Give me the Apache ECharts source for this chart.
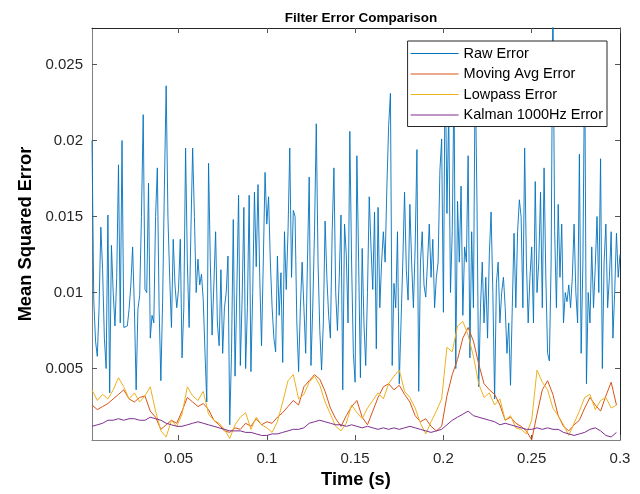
<!DOCTYPE html>
<html><head><meta charset="utf-8">
<script src="https://cdn.jsdelivr.net/npm/echarts@6/dist/echarts.min.js"></script>
<style>html,body{margin:0;padding:0;background:#fff}#c{width:640px;height:494px}</style>
</head><body><div id="c"></div>
<script>
// values in units of 1e-3 (milli)
const rawErr = [
20.0,9.5,6.8,5.8,9.0,14.3,11.5,7.0,5.0,15.1,
3.4,13.1,10.0,7.8,11.0,18.4,8.0,20.0,7.7,7.6,
7.8,8.9,10.5,13.0,9.0,3.6,8.9,9.8,15.0,21.7,
10.2,10.0,17.2,7.0,8.5,8.0,15.0,18.2,9.0,4.2,
9.5,17.0,23.6,15.0,11.0,7.7,13.5,10.5,9.0,10.2,
13.5,5.7,9.0,19.5,12.0,7.7,14.0,19.5,15.0,10.0,
12.2,10.5,11.2,9.5,6.0,2.8,18.5,12.0,7.2,10.5,
14.0,8.0,6.5,11.5,6.0,9.0,10.0,12.4,1.3,6.0,
14.8,4.5,10.0,16.4,5.2,9.5,15.6,5.0,9.0,16.4,
4.8,10.0,16.6,11.7,17.1,11.0,6.5,12.0,17.9,14.5,
16.3,12.0,9.0,7.0,6.1,12.4,8.5,11.3,5.4,14.0,
10.2,14.0,19.5,11.0,15.4,15.0,8.0,4.8,9.0,12.0,
9.0,6.0,12.0,17.6,5.2,9.0,14.0,21.1,12.0,7.5,
4.9,8.0,14.7,11.0,8.5,7.0,14.0,18.2,10.0,7.5,
11.0,15.1,3.6,14.5,12.5,8.0,20.6,12.0,6.0,4.1,
19.0,12.0,4.4,12.9,8.0,5.2,10.0,16.3,13.0,10.2,
15.3,6.3,15.6,9.0,12.0,14.0,12.0,17.0,21.0,23.1,
5.2,10.6,9.0,14.0,4.0,8.0,12.0,16.6,11.5,9.5,
15.8,12.0,9.0,13.0,19.4,3.5,12.0,14.0,10.5,9.7,
12.0,14.5,11.0,13.5,9.0,11.0,12.0,18.0,20.1,8.7,
26.0,15.2,22.0,10.0,14.0,24.0,5.0,16.0,12.0,17.0,
8.5,13.0,12.0,19.0,5.7,14.0,9.0,25.0,16.0,3.8,
9.0,12.0,8.0,11.0,7.0,12.5,15.3,10.0,3.0,10.6,
12.0,8.0,10.0,11.0,9.0,6.0,8.0,3.9,9.0,13.9,
9.0,14.0,16.1,15.0,9.0,19.5,12.0,8.0,11.0,13.0,
8.0,17.3,10.0,12.0,16.6,9.0,18.2,11.0,6.0,5.5,
12.0,30.0,14.0,9.0,15.8,11.0,14.5,8.0,10.0,9.4,
10.5,9.0,11.0,14.5,10.0,8.0,19.1,6.0,12.0,26.0,
4.0,10.0,8.0,13.0,9.0,11.7,15.0,10.0,18.8,5.0,
12.0,14.5,9.0,11.0,14.0,7.0,10.0,13.9,11.0,12.5
];
const movingAvgErr = [
2.6,2.3,2.5,2.7,3.0,3.3,3.6,3.0,2.8,3.1,
3.2,2.2,1.8,1.0,1.3,1.6,1.4,2.2,3.1,2.8,
2.5,2.7,2.3,1.6,1.3,0.9,0.8,1.1,1.0,1.4,
1.2,1.7,1.3,1.5,1.4,1.8,2.1,2.5,2.9,2.6,
3.8,4.2,4.6,4.3,3.5,2.4,1.7,1.2,1.9,2.5,
2.9,1.8,1.3,2.2,3.1,3.8,4.0,3.6,3.9,3.3,
2.8,1.9,1.5,1.7,1.2,0.9,1.2,3.2,4.6,5.6,
7.0,7.7,6.8,5.3,4.0,3.6,3.3,2.6,1.6,1.8,
1.4,1.2,0.9,0.3,2.0,3.6,4.2,3.3,1.9,1.2,
0.9,1.3,1.6,2.4,3.1,2.6,2.2,3.2,4.1,2.6
];
const lowpassErr = [
3.6,2.9,3.3,3.0,3.6,4.4,3.8,3.0,3.4,2.8,
3.2,3.8,2.2,0.9,0.5,1.6,1.2,2.0,3.8,3.2,
2.9,3.5,2.0,1.6,1.4,1.0,0.4,1.3,1.8,2.1,
1.0,1.8,1.3,1.1,0.8,1.5,2.8,4.2,4.6,3.0,
3.3,4.1,4.5,3.9,2.8,2.0,1.2,0.9,1.4,2.6,
2.1,1.7,2.4,2.9,3.4,3.0,4.0,4.5,4.9,3.5,
3.1,2.4,1.4,0.7,1.5,2.2,3.0,6.4,6.1,7.8,
8.1,7.2,5.8,4.0,3.1,3.4,2.6,3.0,1.6,1.9,
1.1,1.0,0.7,1.6,4.9,4.1,3.6,2.4,1.9,1.3,
0.6,1.4,2.2,3.1,3.3,2.3,2.9,3.1,2.4,2.6
];
const kalmanErr = [
1.2,1.3,1.4,1.6,1.6,1.7,1.6,1.7,1.7,1.6,
1.6,1.8,1.7,1.6,1.4,1.3,1.2,1.2,1.3,1.4,
1.5,1.4,1.3,1.2,1.1,1.0,0.9,0.9,0.9,0.8,
0.8,0.7,0.6,0.6,0.7,0.7,0.8,0.9,1.0,1.0,
1.1,1.4,1.5,1.6,1.5,1.4,1.3,1.3,1.2,1.3,
1.2,1.1,1.2,1.1,1.0,1.1,1.0,1.1,1.0,1.1,
1.2,1.1,1.0,0.9,0.8,0.9,1.0,1.3,1.6,1.8,
2.0,2.2,1.9,1.8,1.7,1.6,1.5,1.3,1.4,1.3,
1.2,1.1,1.0,1.0,1.1,1.0,1.1,1.0,1.0,0.8,
0.7,0.6,0.7,0.8,1.0,1.1,0.9,0.6,0.5,0.8
];
const seriesNames = ['Raw Error','Moving Avg Error','Lowpass Error','Kalman 1000Hz Error'];
const xTicks = [0.05,0.1,0.15,0.2,0.25,0.3];
const yTicks = [0.005,0.01,0.015,0.02,0.025];

// sample times: raw every 1 ms from 1 ms, filters every 3 ms from 1 ms
const toPairs = (arr, stepMs) => arr.map((v,i)=>[(1+i*stepMs)/1000, v/1000]);

const colors = ['#0072BD','#D95319','#EDB120','#7E2F8E'];
const axisCol = '#262626';
const fnt = '"Liberation Sans", Arial, sans-serif';
const fmt = v => String(+v.toFixed(4));
const datas = [toPairs(rawErr,1), toPairs(movingAvgErr,3), toPairs(lowpassErr,3), toPairs(kalmanErr,3)];

const chart = echarts.init(document.getElementById('c'), null, {renderer:'canvas'});
chart.setOption({
  animation:false,
  backgroundColor:'#fff',
  color:colors,
  title:{text:'Filter Error Comparison', left:356, textAlign:'center', top:6,
    textStyle:{fontFamily:fnt, fontSize:13.5, fontWeight:'bold', color:'#000'}},
  grid:{left:92, right:20, top:28, bottom:51},
  legend:{orient:'vertical', right:33, top:41, data:seriesNames,
    icon:'rect', itemWidth:48, itemHeight:1, itemGap:5.5,
    backgroundColor:'#fff', borderColor:'#262626', borderWidth:1, padding:[5,4,4,3],
    textStyle:{fontFamily:fnt, fontSize:14.5, color:'#000'}},
  xAxis:[{type:'value', min:0.001, max:0.3, position:'bottom',
    name:'Time (s)', nameLocation:'middle', nameGap:31,
    nameTextStyle:{fontFamily:fnt, fontSize:18.3, fontWeight:'bold', color:'#000'},
    axisLine:{lineStyle:{color:'#808080', width:1}},
    axisTick:{inside:true, length:5, customValues:xTicks, lineStyle:{color:'#555'}},
    axisLabel:{customValues:xTicks, formatter:fmt, fontFamily:fnt, fontSize:15, color:axisCol, margin:11},
    splitLine:{show:false}},
   {type:'value', min:0.001, max:0.3, position:'top',
    axisLine:{lineStyle:{color:'#262626', width:1}},
    axisTick:{inside:true, length:5, customValues:xTicks, lineStyle:{color:'#555'}},
    axisLabel:{show:false}, splitLine:{show:false}}],
  yAxis:[{type:'value', min:0.0003, max:0.0274, position:'left',
    name:'Mean Squared Error', nameLocation:'middle', nameGap:53, nameRotate:90,
    nameTextStyle:{fontFamily:fnt, fontSize:18.3, fontWeight:'bold', color:'#000'},
    axisLine:{show:true, lineStyle:{color:'#808080', width:1}},
    axisTick:{show:true, inside:true, length:5, customValues:yTicks, lineStyle:{color:'#555'}},
    axisLabel:{customValues:yTicks, formatter:fmt, fontFamily:fnt, fontSize:15, color:axisCol, margin:9},
    splitLine:{show:false}},
   {type:'value', min:0.0003, max:0.0274, position:'right',
    axisLine:{show:true, lineStyle:{color:'#262626', width:1}},
    axisTick:{show:true, inside:true, length:5, customValues:yTicks, lineStyle:{color:'#555'}},
    axisLabel:{show:false}, splitLine:{show:false}}],
  series: seriesNames.map((n,i)=>({
    name:n, type:'line', data:datas[i], showSymbol:false, clip:true, z:2+i,
    itemStyle:{color:colors[i]}, lineStyle:{width:i===0?0.9:1, color:colors[i]}
  }))
});
</script></body></html>
